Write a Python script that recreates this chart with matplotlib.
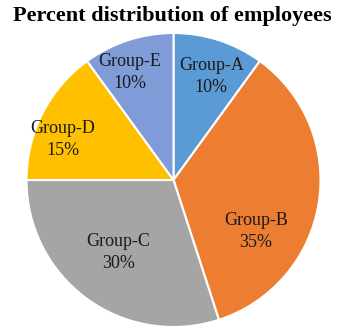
import numpy as np
import matplotlib.pyplot as plt

groups = ["Group-A", "Group-B", "Group-C", "Group-D", "Group-E"]
percent = [10, 35, 30, 15, 10]
colors = ["#5B9BD5", "#ED7D31", "#A5A5A5", "#FFC000", "#7F9CD9"]

# label placement (radius fraction, angle in degrees)
label_dist = [0.75, 0.66, 0.62, 0.80, 0.79]
label_ang = [70, -32, -127, 160, 112]

plt.rcParams['font.family'] = ['Liberation Serif', 'DejaVu Serif']

fig = plt.figure(figsize=(3.44, 3.34), dpi=100)
ax = fig.add_axes([26/344, 1 - 327/334, 295/344, 294/334])

wedges, _ = ax.pie(percent, colors=colors, startangle=90, counterclock=False,
                   wedgeprops=dict(edgecolor='white', linewidth=1.5))
ax.set_xlim(-1, 1)
ax.set_ylim(-1, 1)
ax.set_aspect('equal')

for g, p, d, a in zip(groups, percent, label_dist, label_ang):
    t = np.deg2rad(a)
    ax.text(d * np.cos(t), d * np.sin(t), f"{g}\n{p}%", ha='center', va='center',
            fontsize=13, color='#1a1a1a', linespacing=1.4)

fig.text(0.5, 0.953, "Percent distribution of employees", ha='center', va='center',
         fontsize=16, fontweight='bold')

fig.savefig("out.png", dpi=100)
